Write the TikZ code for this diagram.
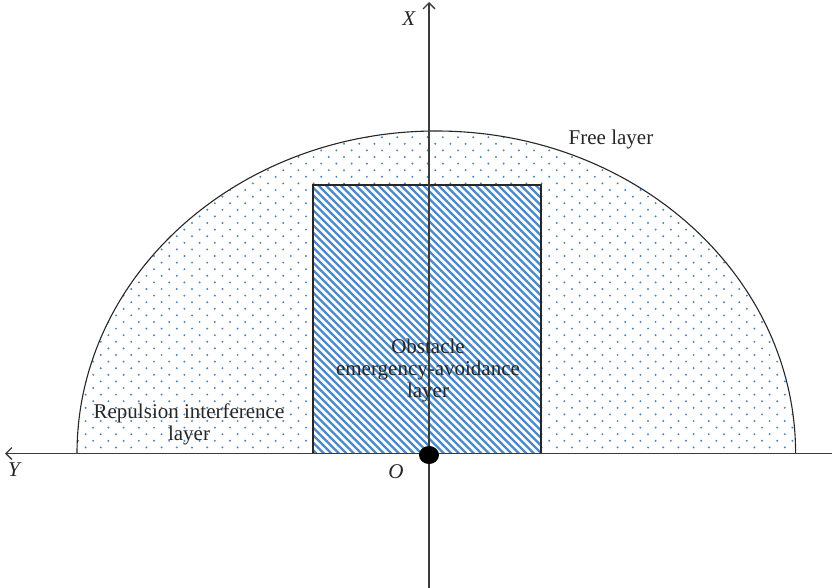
\documentclass[tikz,border=0pt]{standalone}
\usepackage{fontspec}
\setmainfont{Liberation Serif}
\usetikzlibrary{arrows.meta}
\definecolor{colorPunto}{HTML}{4A86C5}
\definecolor{colorRaya}{HTML}{4A8AC8}
\definecolor{colorEje}{HTML}{3C3C3C}

\begin{document}
\begin{tikzpicture}[x=1pt, y=-1pt,
        ax/.style={colorEje, line width=1.3pt, -{Straight Barb[length=6pt, width=12pt]}},
        borde/.style={black!85, line width=1.1pt},
        lab/.style={font=\fontsize{21}{22}\selectfont, align=center, inner sep=0pt, text=black!85}
    ]
        \useasboundingbox (0,0) rectangle (832,588);
        % puntos de la capa de repulsion
        \begin{scope}
            \clip (77,453.5) arc[start angle=180, end angle=360, x radius=359.3, y radius=322.5] -- cycle;
            \foreach \r in {0,...,49} \foreach \c in {0,...,55}
                \fill[colorPunto] ({2+\c*15.2+mod(\r,2)*7.6}, {454-\r*6.6}) circle (1.1);
        \end{scope}
        % capa de evasion (rayado)
        \fill[white] (313,185) rectangle (541,453.5);
        \begin{scope}
            \clip (313,185) rectangle (541,453.5);
            \foreach \i in {-285,-277.5,...,240}
                \draw[colorRaya, line width=2.3pt] (313+\i,180) -- ++(285,285);
        \end{scope}
        \draw[borde] (313,185) rectangle (541,453.5);
        \draw[borde] (77,453.5) arc[start angle=180, end angle=360, x radius=359.3, y radius=322.5];
        % ejes
        \coordinate (o) at (429,453.5);
        \coordinate (xs) at (429,588);
        \coordinate (xe) at (429,2);
        \coordinate (ys) at (832,453.5);
        \coordinate (ye) at (5,453.5);
        \draw[ax] (ys) -- (ye);
        \draw[ax] (xs) -- (xe);
        \fill[black] (429,455) ellipse[x radius=10, y radius=9];
        % textos
        \node[lab] (lx) at (409,19) {\textit{X}};
        \node[lab] (ly) at (15,470) {\textit{Y}};
        \node[lab] (lo) at (396,472) {\textit{O}};
        \node[lab] (free) at (611,139) {Free layer};
        \node[lab] (obs) at (428,370) {Obstacle\\emergency-avoidance\\layer};
        \node[lab] (rep) at (189,424) {Repulsion interference\\layer};
    \end{tikzpicture}
\end{document}
